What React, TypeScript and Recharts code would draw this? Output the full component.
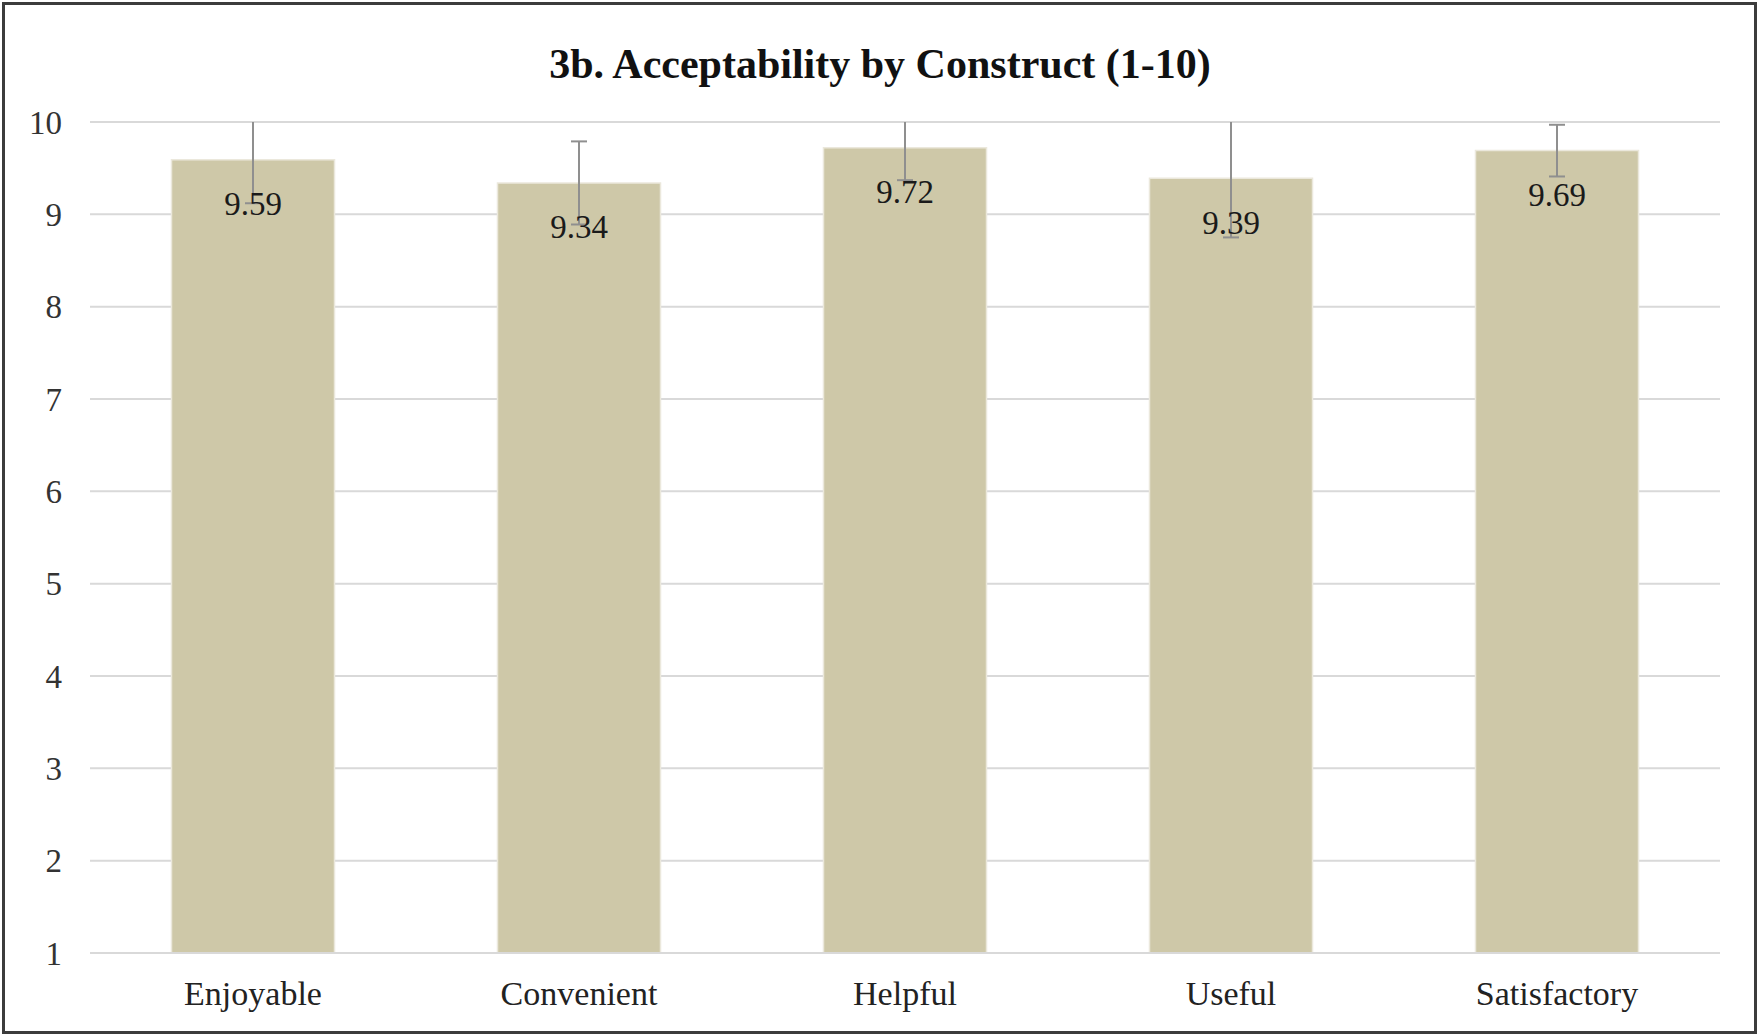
import { Bar, BarChart, CartesianGrid, ErrorBar, LabelList, XAxis, YAxis } from "recharts";

const constructs = ["Enjoyable", "Convenient", "Helpful", "Useful", "Satisfactory"];
const meanScores = [9.59, 9.34, 9.72, 9.39, 9.69];
const errorMargins = [0.47, 0.45, 0.35, 0.64, 0.28];
const yTicks = [1, 2, 3, 4, 5, 6, 7, 8, 9, 10];

const rows = constructs.map((construct, i) => ({
  construct,
  score: meanScores[i],
  err: errorMargins[i],
}));

const serif = "'Liberation Serif', 'Times New Roman', serif";
const grid = "#d9d9d9";

// plot area in chart coords, used to cut the error bars off at 10 like the original
const plot = { x: 90, y: 122, w: 1630, h: 831 };

export default function App() {
  return (
    <div
      style={{
        position: "fixed",
        left: 0,
        top: 0,
        width: 1760,
        height: 1036,
        background: "#fff",
        fontFamily: serif,
      }}
    >
      <style>{`.recharts-errorBar { clip-path: url(#plotClip); }`}</style>
      <svg width={0} height={0} style={{ position: "absolute" }}>
        <defs>
          <clipPath id="plotClip" clipPathUnits="userSpaceOnUse">
            <rect x={plot.x - 20} y={plot.y} width={plot.w + 40} height={plot.h} />
          </clipPath>
        </defs>
      </svg>
      <div
        style={{
          position: "absolute",
          left: 2,
          top: 2,
          width: 1755,
          height: 1032,
          border: "3px solid #3c3c3c",
          boxSizing: "border-box",
        }}
      />
      <div
        style={{
          position: "absolute",
          left: 0,
          top: 40,
          width: 1760,
          textAlign: "center",
          fontSize: 42,
          fontWeight: "bold",
          color: "#111",
          lineHeight: "48px",
        }}
      >
        3b. Acceptability by Construct (1-10)
      </div>
      <div style={{ position: "absolute", left: 0, top: 0 }}>
        <BarChart
          width={1760}
          height={1036}
          data={rows}
          margin={{ top: 122, right: 40, bottom: 0, left: 30 }}
          barCategoryGap="25%"
        >
          <CartesianGrid vertical={false} stroke={grid} strokeWidth={2} />
          <XAxis
            dataKey="construct"
            height={83}
            axisLine={{ stroke: grid, strokeWidth: 2 }}
            tickLine={false}
            tickSize={0}
            tickMargin={28}
            tick={{ fontSize: 34, fill: "#222", fontFamily: serif }}
          />
          <YAxis
            domain={[1, 10]}
            ticks={yTicks}
            allowDataOverflow
            width={60}
            axisLine={false}
            tickLine={false}
            tickSize={0}
            tickMargin={28}
            tick={{ fontSize: 33, fill: "#333", fontFamily: serif }}
          />
          <Bar
            dataKey="score"
            fill="#cec8a8"
            stroke="#ebe8dc"
            strokeWidth={1.5}
            isAnimationActive={false}
          >
            <LabelList
              dataKey="score"
              position="insideTop"
              offset={32}
              style={{ fontSize: 33, fill: "#1a1a1a", fontFamily: serif }}
            />
            <ErrorBar
              dataKey="err"
              direction="y"
              width={8}
              stroke="#8f8f8f"
              strokeWidth={2}
              isAnimationActive={false}
            />
          </Bar>
        </BarChart>
      </div>
    </div>
  );
}
